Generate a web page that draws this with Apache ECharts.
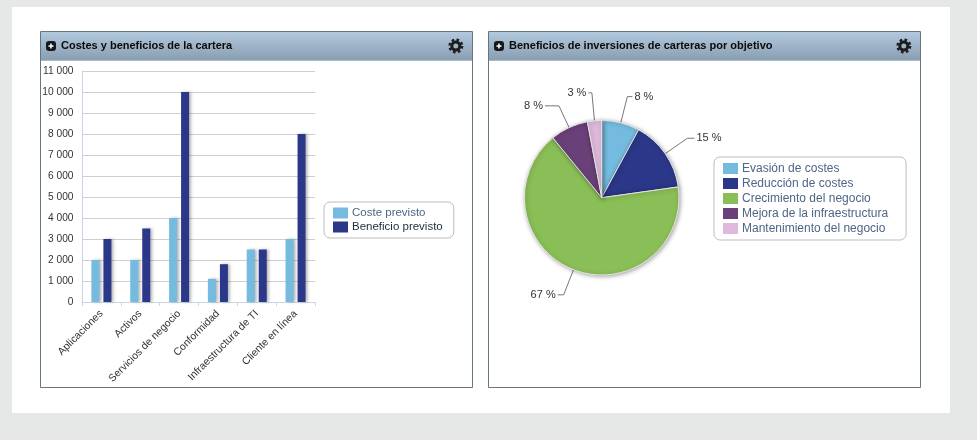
<!DOCTYPE html>
<html><head><meta charset="utf-8">
<style>html,body{margin:0;padding:0;background:#e6e8e8}#c{width:977px;height:440px}</style>
<script src="https://cdn.jsdelivr.net/npm/echarts@6/dist/echarts.min.js"></script>
</head><body><div id="c"></div>
<script>
const categories = ['Aplicaciones','Activos','Servicios de negocio','Conformidad','Infraestructura de TI','Cliente en línea'];
const costePrevisto = [2000,2000,4000,1100,2500,3000];
const beneficioPrevisto = [3000,3500,10000,1800,2500,8000];
const objetivos = ['Evasión de costes','Reducción de costes','Crecimiento del negocio','Mejora de la infraestructura','Mantenimiento del negocio'];
const porcentajes = [8,15,67,8,3];
const pieColors = ['#74bbdf','#2b3788','#8abe56','#6a4078','#dfb9dc'];
const lineLen = [[27,5],[27,7],[27,6],[24,14],[28,3.5]];
const FONT = '"Liberation Sans", Arial, sans-serif';
const chart = echarts.init(document.getElementById('c'));
function panel(x,title){
  const grad = new echarts.graphic.LinearGradient(0,0,0,1,[{offset:0,color:'#b2c9de'},{offset:1,color:'#8a9eb1'}]);
  return [
    {type:'rect',shape:{x:x+.5,y:31.5,width:432,height:356},style:{fill:'#fff',stroke:'#66767f',lineWidth:1},z:1},
    {type:'rect',shape:{x:x+1,y:32,width:431,height:28},style:{fill:grad},z:1},
    {type:'rect',shape:{x:x+1,y:60,width:431,height:1},style:{fill:'#a9bccd'},z:1},
    {type:'rect',shape:{x:x+6,y:41,width:10,height:10,r:3},style:{fill:'#16191c'},z:2},
    {type:'rect',shape:{x:x+8.5,y:45.3,width:5,height:1.5},style:{fill:'#fff'},z:3},
    {type:'rect',shape:{x:x+10.2,y:43.5,width:1.5,height:5},style:{fill:'#fff'},z:3},
    {type:'text',x:x+21,y:40.5,style:{text:title,font:'bold 11px '+FONT,fill:'#0a0a0a'},z:3},
    {type:'circle',shape:{cx:x+415.8,cy:46,r:6.3},style:{fill:'none',stroke:'#1c1c1c',lineWidth:2.4,lineDash:[2.55,2.4]},z:3},
    {type:'circle',shape:{cx:x+415.8,cy:46,r:4},style:{fill:'none',stroke:'#1c1c1c',lineWidth:3},z:3}
  ];
}
const legendBase = {orient:'vertical',backgroundColor:'#fff',borderColor:'#bdbdbd',borderWidth:1,borderRadius:6,
  itemWidth:15,itemHeight:11,icon:'rect',selectedMode:false,itemStyle:{borderWidth:0,shadowBlur:0,shadowOffsetX:0,shadowOffsetY:0}};
chart.setOption({
  animation:false,
  backgroundColor:'#e6e8e8',
  graphic:[
    {type:'rect',shape:{x:12,y:7,width:938,height:406},style:{fill:'#fff'},z:0},
    ...panel(40,'Costes y beneficios de la cartera'),
    ...panel(488,'Beneficios de inversiones de carteras por objetivo')
  ],
  grid:{left:82,top:71,width:233,height:231,containLabel:false},
  xAxis:{type:'category',data:categories,z:5,
    axisLine:{lineStyle:{color:'#c9d6e4',width:1}},
    axisTick:{show:true,length:4,alignWithLabel:false,lineStyle:{color:'#c9d6e4'}},
    axisLabel:{rotate:45,interval:0,margin:10,fontFamily:FONT,fontSize:10.5,color:'#333'}},
  yAxis:{type:'value',min:0,max:11000,interval:1000,z:5,
    axisLine:{show:true,lineStyle:{color:'#c9d6e4'}},
    axisTick:{show:false},
    splitLine:{lineStyle:{color:'#cfcfcf',width:1}},
    axisLabel:{margin:8.5,fontFamily:FONT,fontSize:10.2,color:'#333',
      formatter:v=>String(v).replace(/\B(?=(\d{3})+$)/g,' ')}},
  legend:[
    {...legendBase,left:324,top:202,padding:[5,11,5,9],itemGap:2,data:[
      {name:'Coste previsto',textStyle:{color:'#4e6586'}},
      {name:'Beneficio previsto',textStyle:{color:'#1f2a3a'}}],
      textStyle:{fontFamily:FONT,fontSize:11.5,padding:[0,0,0,-1]}},
    {...legendBase,left:714,top:157,padding:[5.5,18,5.5,9],itemGap:3,data:objetivos,
      textStyle:{fontFamily:FONT,fontSize:12,color:'#4e6586',padding:[0,0,0,-1]}}
  ],
  series:[
    {type:'bar',name:'Coste previsto',data:costePrevisto,barWidth:8,barGap:'50%',z:10,
     itemStyle:{color:'#74bbdf',shadowColor:'rgba(0,0,0,.28)',shadowBlur:3,shadowOffsetX:2}},
    {type:'bar',name:'Beneficio previsto',data:beneficioPrevisto,barWidth:8,z:10,
     itemStyle:{color:'#2b3788',shadowColor:'rgba(0,0,0,.28)',shadowBlur:3,shadowOffsetX:2}},
    {type:'pie',center:[601.7,197.7],radius:[0,77.3],startAngle:90,clockwise:true,
     data:objetivos.map((n,i)=>({name:n,value:porcentajes[i],itemStyle:{color:pieColors[i]},
       labelLine:{length:lineLen[i][0],length2:lineLen[i][1]}})),
     itemStyle:{borderColor:'#e4e4e4',borderWidth:1,shadowColor:'rgba(0,0,0,.35)',shadowBlur:4,shadowOffsetX:1,shadowOffsetY:1},
     label:{formatter:'{c} %',fontFamily:FONT,fontSize:11,color:'#333',distanceToLabelLine:2},
     labelLine:{lineStyle:{color:'#777',width:1}},
     emphasis:{disabled:true},avoidLabelOverlap:false}
  ]
});
</script></body></html>
